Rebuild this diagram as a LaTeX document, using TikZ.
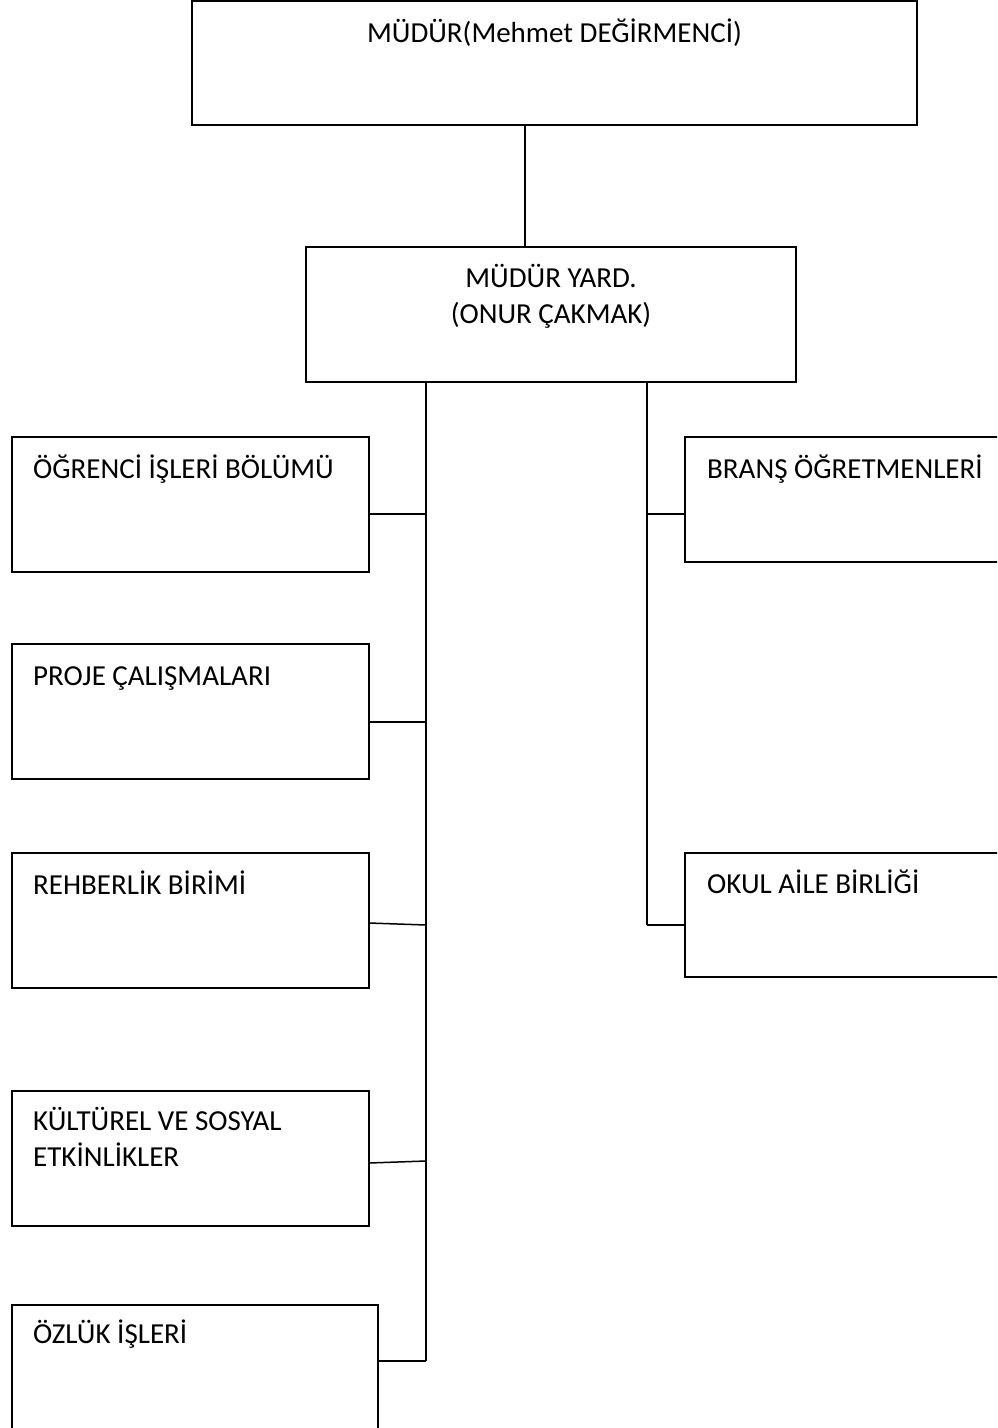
\documentclass[tikz,border=0pt]{standalone}
\usepackage{fontspec}
\setmainfont{Carlito}
\usetikzlibrary{calc}
\begin{document}
\begin{tikzpicture}[x=1pt,y=-1pt,
  box/.style={draw, line width=1.5pt, rectangle, inner sep=0pt, outer sep=0pt, anchor=north west},
  txt/.style={font=\fontsize{29}{35}\selectfont, inner sep=0pt},
  conn/.style={line width=1.5pt}]
\useasboundingbox (0,0) rectangle (997,1428);
\clip (0,0) rectangle (997,1428);
% boxes
\node[box, minimum width=725pt, minimum height=124pt] (mudur) at (192,1) {};
\node[box, minimum width=490pt, minimum height=135pt] (yard) at (306,247) {};
\node[box, minimum width=357pt, minimum height=135pt] (ogr) at (12,437) {};
\node[box, minimum width=357pt, minimum height=135pt] (proje) at (12,644) {};
\node[box, minimum width=357pt, minimum height=135pt] (reh) at (12,853) {};
\node[box, minimum width=357pt, minimum height=135pt] (kul) at (12,1091) {};
\node[box, minimum width=366pt, minimum height=135pt] (oz) at (12,1305) {};
\node[box, minimum width=400pt, minimum height=125pt] (brans) at (685,437) {};
\node[box, minimum width=400pt, minimum height=124pt] (okul) at (685,853) {};
% texts
\node[txt, anchor=base] (tm) at (554.5,42) {MÜDÜR(Mehmet DEĞİRMENCİ)};
\node[txt, anchor=base] (ty1) at (551,287) {MÜDÜR YARD.};
\node[txt, anchor=base] (ty2) at (551,323) {(ONUR ÇAKMAK)};
\node[txt, anchor=base west] (to) at ($(ogr.north west)+(21,41)$) {ÖĞRENCİ İŞLERİ BÖLÜMÜ};
\node[txt, anchor=base west] (tp) at ($(proje.north west)+(21,41)$) {PROJE ÇALIŞMALARI};
\node[txt, anchor=base west] (tr) at ($(reh.north west)+(21,41)$) {REHBERLİK BİRİMİ};
\node[txt, anchor=base west] (tk1) at ($(kul.north west)+(21,39)$) {KÜLTÜREL VE SOSYAL};
\node[txt, anchor=base west] (tk2) at ($(kul.north west)+(21,75)$) {ETKİNLİKLER};
\node[txt, anchor=base west] (tz) at ($(oz.north west)+(21,38)$) {ÖZLÜK İŞLERİ};
\node[txt, anchor=base west] (tb) at ($(brans.north west)+(22,41)$) {BRANŞ ÖĞRETMENLERİ};
\node[txt, anchor=base west] (tok) at ($(okul.north west)+(22,40)$) {OKUL AİLE BİRLİĞİ};
% connector coordinates
\coordinate (mx) at (525,0);
\coordinate (bL) at (426,0);
\coordinate (bR) at (647,0);
\coordinate (j1) at (426,514);
\coordinate (j2) at (426,722);
\coordinate (j3) at (426,925);
\coordinate (j4) at (426,1161);
\coordinate (j5) at (426,1361);
\coordinate (r1) at (647,514);
\coordinate (r2) at (647,925);
% connectors
\draw[conn] (mudur.south -| mx) -- (yard.north -| mx);
\draw[conn] (yard.south -| bL) -- (j5);
\draw[conn] (yard.south -| bR) -- (r2);
\draw[conn] (ogr.east |- j1) -- (j1);
\draw[conn] (proje.east |- j2) -- (j2);
\draw[conn] ($(reh.north east)+(0,70)$) -- (j3);
\draw[conn] ($(kul.north east)+(0,72)$) -- (j4);
\draw[conn] (oz.east |- j5) -- (j5);
\draw[conn] (r1) -- (brans.west |- r1);
\draw[conn] (r2) -- (okul.west |- r2);
\end{tikzpicture}
\end{document}
